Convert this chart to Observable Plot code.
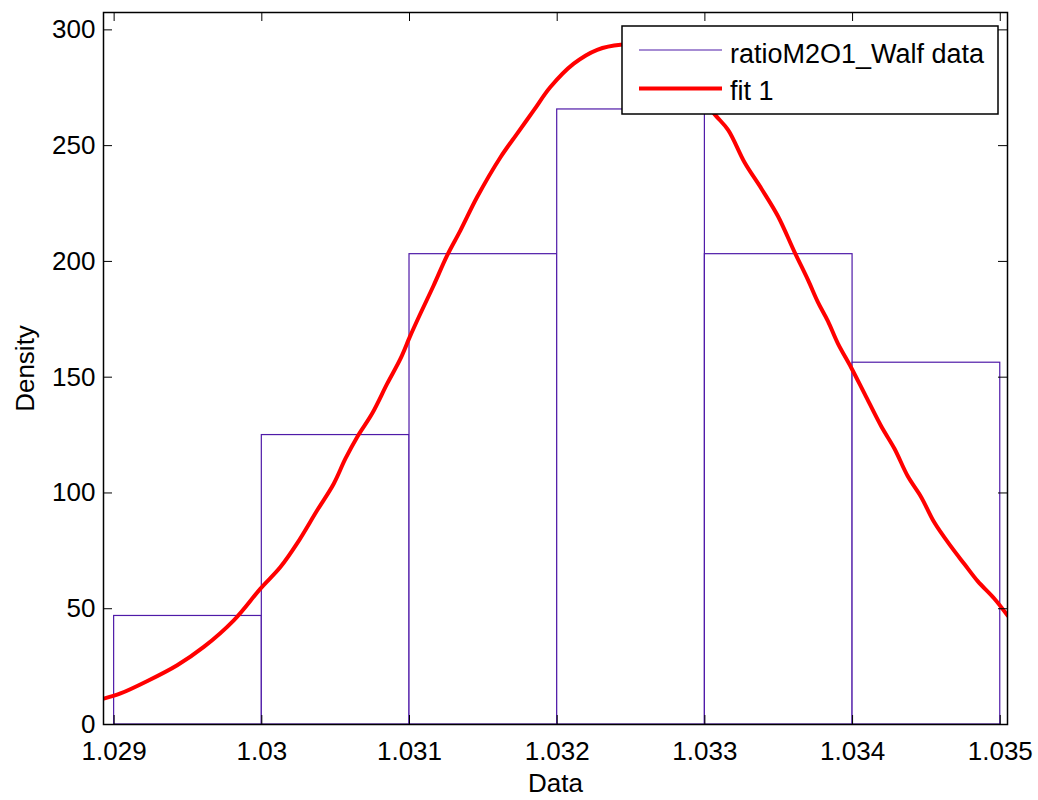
<!DOCTYPE html>
<html>
<head>
<meta charset="utf-8">
<script src="https://cdn.jsdelivr.net/npm/d3@7"></script>
<script src="https://cdn.jsdelivr.net/npm/@observablehq/plot@0.6"></script>
<style>
  html, body { margin: 0; padding: 0; background: white; }
  #chart { position: relative; width: 1038px; height: 800px; }
</style>
</head>
<body>
<div id="chart"></div>
<script>
// Histogram bins (bin edges) and densities
const binLeft  = [1.029, 1.030, 1.031, 1.032, 1.033, 1.034];
const binRight = [1.030, 1.031, 1.032, 1.033, 1.034, 1.035];
const density  = [46.875, 125, 203.125, 265.625, 203.125, 156.25];

// Fitted curve
const fitX = [1.02893, 1.029043, 1.029223, 1.029427, 1.029607, 1.02981, 1.029991, 1.030126, 1.030239, 1.030375,
  1.030487, 1.030566, 1.030646, 1.030747, 1.030849, 1.030939, 1.031002, 1.031074, 1.031164, 1.031255,
  1.031345, 1.031458, 1.031616, 1.031729, 1.031841, 1.031954, 1.032112, 1.032271, 1.032429, 1.0325,
  1.03265, 1.0328, 1.03295, 1.033068, 1.033158, 1.03327, 1.033383, 1.033495, 1.033608, 1.033698,
  1.033766, 1.033833, 1.033901, 1.033991, 1.034081, 1.034194, 1.034284, 1.034374, 1.034464, 1.034554,
  1.034667, 1.034757, 1.034847, 1.034959, 1.03505];
const fitY = [11.2, 13.4, 18.7, 25.6, 33.5, 45, 58.7, 68, 78.2, 92.5,
  104, 114.8, 124.2, 134.3, 147.2, 158, 167.4, 177.5, 189.7, 202.6,
  213.4, 227.8, 245, 255.2, 265.2, 275.3, 285.4, 291.4, 293.6, 293.4,
  290.5, 284, 273, 263.4, 256.7, 242.6, 231.4, 219.5, 203.9, 192,
  182.3, 174.2, 164.5, 154.1, 142.9, 128.8, 119.1, 107.2, 98.3, 87.2,
  76.8, 69.3, 61.9, 54.4, 47.0];

// Ticks
const xTicks = [1.029, 1.030, 1.031, 1.032, 1.033, 1.034, 1.035];
const xTickLabels = ["1.029", "1.03", "1.031", "1.032", "1.033", "1.034", "1.035"];
const yTicks = [0, 50, 100, 150, 200, 250, 300];
const yTickLabels = ["0", "50", "100", "150", "200", "250", "300"];

const xLabel = "Data";
const yLabel = "Density";
const legendLabels = ["ratioM2O1_Walf data", "fit 1"];

const bars = binLeft.map((x1, i) => ({x1, x2: binRight[i], density: density[i]}));
const fit = fitX.map((x, i) => ({x, y: fitY[i]}));

const purple = "#4f1aa8";
const W = 1038, H = 800;
const mL = 103, mR = 31, mT = 12, mB = 76;
const frameW = W - mL - mR, frameH = H - mT - mB;
const tickLen = 9;
const FS = 26;

const chart = Plot.plot({
  width: W, height: H,
  marginLeft: mL, marginRight: mR, marginTop: mT, marginBottom: mB,
  x: {domain: [1.028928, 1.035049]},
  y: {domain: [0, 307.5]},
  style: {fontFamily: "'Liberation Sans', Arial, sans-serif", fontSize: FS + "px", color: "black", background: "white"},
  marks: [
    Plot.rectY(bars, {x1: "x1", x2: "x2", y: "density", fill: "white", stroke: purple, strokeWidth: 1.2}),
    Plot.line(fit, {x: "x", y: "y", stroke: "#ff0000", strokeWidth: 4, strokeLinejoin: "round",
      curve: "catmull-rom", clip: true}),
    Plot.tickX(xTicks, {x: d => d, insetTop: frameH - tickLen, stroke: "black"}),
    Plot.tickX(xTicks, {x: d => d, insetBottom: frameH - tickLen, stroke: "black"}),
    Plot.tickY(yTicks, {y: d => d, insetRight: frameW - tickLen, stroke: "black"}),
    Plot.tickY(yTicks, {y: d => d, insetLeft: frameW - tickLen, stroke: "black"}),
    Plot.axisX({ticks: xTicks, tickSize: 0, tickPadding: 17, label: null, fontSize: FS,
      tickFormat: d => xTickLabels[xTicks.indexOf(d)]}),
    Plot.axisY({ticks: yTicks, tickSize: 0, tickPadding: 8, label: null, fontSize: FS,
      tickFormat: d => yTickLabels[yTicks.indexOf(d)]}),
    Plot.frame({stroke: "black", strokeWidth: 1.5}),
    Plot.text([xLabel], {frameAnchor: "bottom", dy: 59, fill: "black", fontSize: FS,
      textAnchor: "middle", lineAnchor: "middle"}),
    Plot.text([yLabel], {frameAnchor: "left", rotate: -90, dx: -78, fill: "black", fontSize: FS,
      textAnchor: "middle", lineAnchor: "middle"})
  ]
});

document.getElementById("chart").appendChild(chart);

// Legend box
const svg = d3.select(chart);
const lg = svg.append("g")
  .attr("font-family", "'Liberation Sans', Arial, sans-serif")
  .attr("font-size", 27)
  .attr("text-anchor", "start");
lg.append("rect").attr("x", 622).attr("y", 26).attr("width", 376).attr("height", 88)
  .attr("fill", "white").attr("stroke", "black").attr("stroke-width", 1.5);
lg.append("line").attr("x1", 639).attr("x2", 722).attr("y1", 50).attr("y2", 50)
  .attr("stroke", purple).attr("stroke-width", 1.2);
lg.append("text").attr("x", 730).attr("y", 63).attr("fill", "black").attr("text-anchor", "start").text(legendLabels[0]);
lg.append("line").attr("x1", 639).attr("x2", 722).attr("y1", 88.5).attr("y2", 88.5)
  .attr("stroke", "#ff0000").attr("stroke-width", 4);
lg.append("text").attr("x", 730).attr("y", 100).attr("fill", "black").attr("text-anchor", "start").text(legendLabels[1]);
</script>
</body>
</html>
